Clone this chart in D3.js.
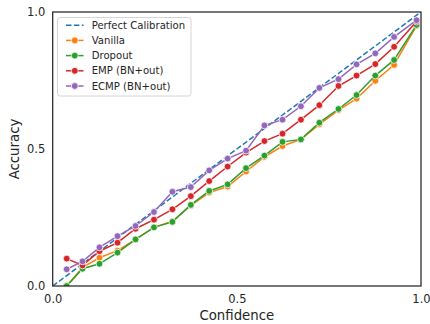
<!DOCTYPE html>
<html>
<head>
<meta charset="utf-8">
<script src="https://cdn.jsdelivr.net/npm/d3@7"></script>
<style>
  body { margin: 0; background: #fff; }
  text { font-family: "DejaVu Sans", sans-serif; fill: #262626; }
</style>
</head>
<body>
<div class="stage"></div>
<script>
// mean confidence of each bin
var confidence = [0.038, 0.081, 0.127, 0.176, 0.225, 0.275, 0.325, 0.375, 0.425, 0.475,
                  0.525, 0.575, 0.624, 0.674, 0.724, 0.776, 0.825, 0.876, 0.927, 0.988]
var vanilla = [0.0, 0.068, 0.103, 0.129, 0.170, 0.214, 0.236, 0.294, 0.341, 0.363,
               0.418, 0.471, 0.511, 0.535, 0.590, 0.642, 0.684, 0.749, 0.807, 0.950]
var dropout = [0.0, 0.063, 0.081, 0.122, 0.170, 0.214, 0.234, 0.296, 0.347, 0.371,
               0.430, 0.476, 0.526, 0.535, 0.596, 0.646, 0.697, 0.768, 0.825, 0.953]
var emp = [0.100, 0.075, 0.127, 0.158, 0.209, 0.242, 0.280, 0.328, 0.383, 0.436,
           0.487, 0.529, 0.556, 0.607, 0.660, 0.730, 0.768, 0.810, 0.873, 0.965]
var ecmp = [0.061, 0.090, 0.141, 0.182, 0.219, 0.270, 0.344, 0.361, 0.422, 0.465,
            0.494, 0.586, 0.607, 0.656, 0.723, 0.755, 0.809, 0.849, 0.909, 0.970]
var seriesNames = ["Vanilla", "Dropout", "EMP (BN+out)", "ECMP (BN+out)"]
var seriesValues = [vanilla, dropout, emp, ecmp]
var seriesColors = ["#ff7f0e", "#2ca02c", "#d62728", "#9467bd"]
var axisTicks = [0, 0.5, 1]

var W = 430, H = 324
var m = {left: 52.7, top: 12, right: 9, bottom: 38}

var svg = d3.select(".stage").append("svg")
  .attr("width", W)
  .attr("height", H)

var x = d3.scaleLinear().domain([0, 1]).range([m.left, W - m.right])
var y = d3.scaleLinear().domain([0, 1]).range([H - m.bottom, m.top])

svg.append("clipPath").attr("id", "plotclip")
  .append("rect")
  .attr("x", x(0)).attr("y", y(1))
  .attr("width", x(1) - x(0)).attr("height", y(0) - y(1))

// axes (no tick marks, seaborn white style)
var xAxis = svg.append("g")
  .attr("transform", "translate(0," + y(0) + ")")
  .call(d3.axisBottom(x).tickValues(axisTicks).tickFormat(d3.format(".1f")).tickSize(0).tickPadding(9))
var yAxis = svg.append("g")
  .attr("transform", "translate(" + x(0) + ",0)")
  .call(d3.axisLeft(y).tickValues(axisTicks).tickFormat(d3.format(".1f")).tickSize(0).tickPadding(7.5))
svg.selectAll(".domain").remove()
svg.selectAll(".tick text")
  .style("font-family", "DejaVu Sans")
  .style("font-size", "11.5px")
  .attr("fill", "#262626")

svg.append("text")
  .attr("x", (x(0) + x(1)) / 2)
  .attr("y", 320)
  .attr("text-anchor", "middle")
  .style("font-size", "13.3px")
  .text("Confidence")

svg.append("text")
  .attr("transform", "translate(19," + (y(0) + y(1)) / 2 + ") rotate(-90)")
  .attr("text-anchor", "middle")
  .style("font-size", "13.3px")
  .text("Accuracy")

var plot = svg.append("g").attr("clip-path", "url(#plotclip)")

// perfect calibration
plot.append("line")
  .attr("x1", x(0)).attr("y1", y(0))
  .attr("x2", x(1)).attr("y2", y(1))
  .attr("stroke", "#1f77b4")
  .attr("stroke-width", 1.5)
  .attr("stroke-dasharray", "5.5,2.4")

var line = d3.line()
  .x(function(d){ return x(d[0]) })
  .y(function(d){ return y(d[1]) })

seriesValues.forEach(function(vals, i){
  var pts = confidence.map(function(c, j){ return [c, vals[j]] })
  plot.append("path")
    .datum(pts)
    .attr("d", line)
    .attr("fill", "none")
    .attr("stroke", seriesColors[i])
    .attr("stroke-width", 1.5)
  plot.selectAll(".dot" + i)
    .data(pts)
    .enter().append("circle")
    .attr("cx", function(d){ return x(d[0]) })
    .attr("cy", function(d){ return y(d[1]) })
    .attr("r", 3.4)
    .attr("fill", seriesColors[i])
    .attr("stroke", "#fff")
    .attr("stroke-width", 0.75)
})

// frame
svg.append("rect")
  .attr("x", x(0)).attr("y", y(1))
  .attr("width", x(1) - x(0)).attr("height", y(0) - y(1))
  .attr("fill", "none")
  .attr("stroke", "#262626")
  .attr("stroke-width", 1.25)

// legend
var legend = svg.append("g")
legend.append("rect")
  .attr("x", 57.5).attr("y", 17.5)
  .attr("width", 133.5).attr("height", 78.5)
  .attr("rx", 2.5)
  .attr("fill", "#fff")
  .attr("fill-opacity", 0.8)
  .attr("stroke", "#cccccc")
  .attr("stroke-width", 0.8)

var legendNames = ["Perfect Calibration"].concat(seriesNames)
var legendColors = ["#1f77b4"].concat(seriesColors)
legendNames.forEach(function(name, i){
  var ly = 25.2 + i * 15.2
  var row = legend.append("g")
  row.append("line")
    .attr("x1", 66).attr("x2", 83.5)
    .attr("y1", ly).attr("y2", ly)
    .attr("stroke", legendColors[i])
    .attr("stroke-width", 1.5)
    .attr("stroke-dasharray", i == 0 ? "5.5,2.4" : null)
  if (i > 0) {
    row.append("circle")
      .attr("cx", 74.75).attr("cy", ly)
      .attr("r", 3.4)
      .attr("fill", legendColors[i])
      .attr("stroke", "#fff")
      .attr("stroke-width", 0.75)
  }
  row.append("text")
    .attr("x", 91.7).attr("y", ly)
    .attr("dy", "0.35em")
    .style("font-size", "10.1px")
    .text(name)
})
</script>
</body>
</html>
